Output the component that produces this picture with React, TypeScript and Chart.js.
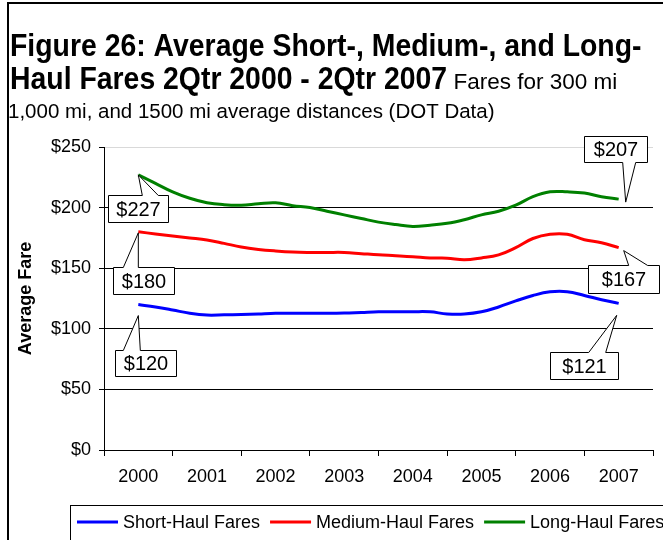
import React, { useEffect, useRef } from "react";
import { Chart, registerables } from "chart.js";

Chart.register(...registerables);

const FONT = "'Liberation Sans', Arial, Helvetica, sans-serif";

const years = ["2000", "2001", "2002", "2003", "2004", "2005", "2006", "2007"];

const quarterLabels = [
  "2Q2000", "3Q2000", "4Q2000",
  "1Q2001", "2Q2001", "3Q2001", "4Q2001",
  "1Q2002", "2Q2002", "3Q2002", "4Q2002",
  "1Q2003", "2Q2003", "3Q2003", "4Q2003",
  "1Q2004", "2Q2004", "3Q2004", "4Q2004",
  "1Q2005", "2Q2005", "3Q2005", "4Q2005",
  "1Q2006", "2Q2006", "3Q2006", "4Q2006",
  "1Q2007", "2Q2007",
];

const shortHaul = [
  120, 118, 115.5, 112.8, 111.3, 111.5, 111.8, 112.3, 112.8, 112.8,
  112.8, 112.8, 113, 113.5, 114, 114.1, 114.1, 114, 112.3, 112.2,
  114, 118, 123, 127.5, 130.5, 130.6, 127.5, 124, 121,
];
const mediumHaul = [
  180, 178.3, 176.6, 175, 173.3, 170.5, 167.5, 165.5, 164.2, 163.3,
  163, 163, 163, 162, 161, 160.3, 159.5, 158.4, 158.3, 157,
  158.5, 161, 167, 174.5, 178, 178, 173.5, 171, 167,
];
const longHaul = [
  227, 220, 213, 207.7, 204, 202.4, 202, 203.2, 204, 201.6,
  200, 197, 194, 191, 188, 186, 184.5, 185.5, 187, 190,
  194, 197, 202, 209, 213, 213, 212, 209, 207,
];

const seriesNames = ["Short-Haul Fares", "Medium-Haul Fares", "Long-Haul Fares"];
const seriesColors = ["#0000FF", "#FF0000", "#008000"];
const yTicks = [0, 50, 100, 150, 200, 250];

const titleBold1 = "Figure 26: Average Short-, Medium-, and Long-";
const titleBold2 = "Haul Fares 2Qtr 2000 - 2Qtr 2007";
const titleNormal2 = " Fares for 300 mi";
const titleNormal3 = "1,000 mi, and 1500 mi average distances (DOT Data)";
const yTitle = "Average Fare";

// position of a quarter label on the year axis (year centre = 2nd quarter)
const quarterToX = (q: string) => {
  const qn = parseInt(q.charAt(0), 10);
  const yr = parseInt(q.slice(2), 10);
  return yr - parseInt(years[0], 10) + (qn - 2) / 4;
};

// callout layout (offsets in px relative to the data point)
type Callout = {
  ds: number;
  idx: "first" | "last";
  box: [number, number, number, number]; // l, r, t, b
  apex: [number, number];
  base: [number, number];
  side: "top" | "bottom";
};
const callouts: Callout[] = [
  { ds: 2, idx: "first", box: [-30, 30, 20, 47], apex: [0, 0], base: [4, 20], side: "top" },
  { ds: 1, idx: "first", box: [-25, 36, 35, 62], apex: [0, 1], base: [-15, 0], side: "top" },
  { ds: 0, idx: "first", box: [-23, 38, 45, 71], apex: [0, 11], base: [-15, 2], side: "top" },
  { ds: 2, idx: "last", box: [-35, 28, -63, -37], apex: [7, 3], base: [4, 17], side: "bottom" },
  { ds: 1, idx: "last", box: [-31, 40, 17, 45], apex: [5, 3], base: [10, 29], side: "top" },
  { ds: 0, idx: "last", box: [-69, -1, 49, 76], apex: [-2, 12], base: [-30, -13], side: "top" },
];

const drawScaledText = (
  ctx: CanvasRenderingContext2D,
  text: string,
  x: number,
  y: number,
  sy: number
) => {
  ctx.save();
  ctx.translate(x, y);
  ctx.scale(1, sy);
  ctx.fillText(text, 0, 0);
  ctx.restore();
};

const decorPlugin = {
  id: "decor",
  afterDraw(chart: any) {
    const ctx = chart.ctx as CanvasRenderingContext2D;
    ctx.save();

    // frame
    ctx.strokeStyle = "#000";
    ctx.lineWidth = 2;
    ctx.beginPath();
    ctx.moveTo(8, 600);
    ctx.lineTo(8, 3);
    ctx.lineTo(700, 3);
    ctx.stroke();

    // title
    ctx.fillStyle = "#000";
    ctx.textAlign = "left";
    ctx.textBaseline = "alphabetic";
    ctx.font = `bold 28.4px ${FONT}`;
    drawScaledText(ctx, titleBold1, 10, 56, 1.12);
    drawScaledText(ctx, titleBold2, 10, 89, 1.12);
    const w2 = ctx.measureText(titleBold2).width;
    ctx.font = `22.5px ${FONT}`;
    ctx.fillText(titleNormal2, 10 + w2, 89);
    ctx.font = `20.5px ${FONT}`;
    ctx.fillText(titleNormal3, 8, 118);

    // callouts
    ctx.font = `20px ${FONT}`;
    ctx.lineWidth = 1;
    callouts.forEach((c) => {
      const meta = chart.getDatasetMeta(c.ds);
      const i = c.idx === "first" ? 0 : meta.data.length - 1;
      const pt = meta.data[i];
      const px = pt.x;
      const py = pt.y;
      const l = Math.round(px + c.box[0]) + 0.5;
      const r = Math.round(px + c.box[1]) + 0.5;
      const t = Math.round(py + c.box[2]) + 0.5;
      const b = Math.round(py + c.box[3]) + 0.5;
      const ax = px + c.apex[0];
      const ay = py + c.apex[1];
      const x1 = px + c.base[0];
      const x2 = px + c.base[1];
      ctx.beginPath();
      if (c.side === "top") {
        ctx.moveTo(l, t);
        ctx.lineTo(x1, t);
        ctx.lineTo(ax, ay);
        ctx.lineTo(x2, t);
        ctx.lineTo(r, t);
        ctx.lineTo(r, b);
        ctx.lineTo(l, b);
      } else {
        ctx.moveTo(l, t);
        ctx.lineTo(r, t);
        ctx.lineTo(r, b);
        ctx.lineTo(x2, b);
        ctx.lineTo(ax, ay);
        ctx.lineTo(x1, b);
        ctx.lineTo(l, b);
      }
      ctx.closePath();
      ctx.fillStyle = "#fff";
      ctx.fill();
      ctx.strokeStyle = "#000";
      ctx.stroke();
      const v = chart.data.datasets[c.ds].data[i].y;
      ctx.fillStyle = "#000";
      ctx.textAlign = "center";
      ctx.textBaseline = "middle";
      ctx.fillText("$" + Math.round(v), (l + r) / 2, (t + b) / 2 + 1);
    });

    // legend
    ctx.strokeStyle = "#000";
    ctx.lineWidth = 1;
    ctx.strokeRect(70.5, 505.5, 700, 60);
    ctx.font = `18px ${FONT}`;
    ctx.textAlign = "left";
    ctx.textBaseline = "middle";
    let x = 77;
    const ly = 522;
    seriesNames.forEach((name, k) => {
      ctx.strokeStyle = seriesColors[k];
      ctx.lineWidth = 3;
      ctx.beginPath();
      ctx.moveTo(x, ly);
      ctx.lineTo(x + 41, ly);
      ctx.stroke();
      ctx.fillStyle = "#000";
      ctx.fillText(name, x + 46, ly + 1);
      x += 46 + ctx.measureText(name).width + 10;
    });

    ctx.restore();
  },
};

export default function App() {
  const ref = useRef<HTMLCanvasElement | null>(null);

  useEffect(() => {
    if (!ref.current) return;
    const series = [shortHaul, mediumHaul, longHaul];
    const xTickVals: number[] = [];
    years.forEach((_, i) => {
      xTickVals.push(i - 0.5, i);
    });
    xTickVals.push(years.length - 0.5);

    const chart = new Chart(ref.current, {
      type: "line",
      data: {
        datasets: series.map((vals, k) => ({
          label: seriesNames[k],
          data: vals.map((v, i) => ({ x: quarterToX(quarterLabels[i]), y: v })),
          borderColor: seriesColors[k],
          backgroundColor: seriesColors[k],
          borderWidth: 3,
          pointRadius: 0,
          tension: 0.4,
          fill: false,
        })),
      },
      options: {
        animation: false,
        responsive: false,
        devicePixelRatio: 1,
        layout: { padding: { top: 147, right: 3, bottom: 50, left: 0 } },
        plugins: {
          legend: { display: false },
          tooltip: { enabled: false },
        },
        scales: {
          x: {
            type: "linear",
            min: -0.5,
            max: years.length - 0.5,
            afterBuildTicks: (s: any) => {
              s.ticks = xTickVals.map((v) => ({ value: v }));
            },
            afterFit: (s: any) => {
              s.height = 40;
            },
            ticks: {
              autoSkip: false,
              maxRotation: 0,
              color: "#000",
              padding: 10,
              font: { family: FONT, size: 18 },
              callback: (v: any) => (Number.isInteger(v) ? years[v] : ""),
            },
            grid: {
              drawOnChartArea: false,
              drawTicks: true,
              tickLength: 6,
              tickColor: (c: any) =>
                c.tick && Number.isInteger(c.tick.value) ? "rgba(0,0,0,0)" : "#000",
            },
            border: { color: "#000", width: 1 },
          },
          y: {
            min: 0,
            max: 250,
            afterBuildTicks: (s: any) => {
              s.ticks = yTicks.map((v) => ({ value: v }));
            },
            afterFit: (s: any) => {
              s.width = 104;
            },
            ticks: {
              color: "#000",
              padding: 8,
              font: { family: FONT, size: 18 },
              callback: (v: any) => "$" + v,
            },
            grid: {
              color: (c: any) => (c.tick && c.tick.value === 250 ? "#d9d9d9" : "#000"),
              tickColor: "#000",
              tickLength: 5,
            },
            border: { color: "#000", width: 1 },
            title: {
              display: true,
              text: yTitle,
              color: "#000",
              font: { family: FONT, size: 18, weight: "bold" },
              padding: { top: 15, bottom: 0 },
            },
          },
        },
      },
      plugins: [decorPlugin],
    });
    return () => chart.destroy();
  }, []);

  return (
    <div style={{ position: "absolute", left: 0, top: 0, width: 663, height: 540, background: "#fff" }}>
      <canvas ref={ref} width={663} height={540} style={{ display: "block" }} />
    </div>
  );
}
